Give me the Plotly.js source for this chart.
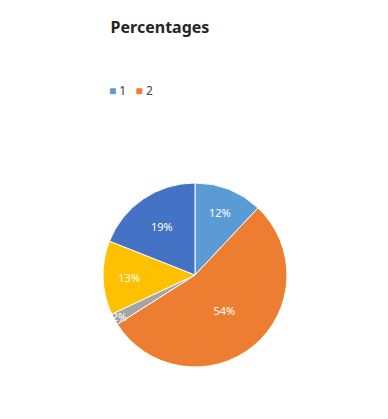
<!DOCTYPE html>
<html>
<head>
<meta charset="utf-8">
<script src="https://cdn.plot.ly/plotly-3.0.1.min.js"></script>
<style>html,body{margin:0;padding:0;background:#fff;}#chart{width:388px;height:419px;}</style>
</head>
<body>
<div id="chart"></div>
<script>
const labels = ["1", "2", "3", "4", "5"];
const values = [12, 54, 2, 13, 19];
const colors = ["#5B9BD5", "#ED7D31", "#A5A5A5", "#FFC000", "#4472C4"];
const legendLabels = ["1", "2"];

const W = 388, H = 419;
const pie = {
  type: "pie",
  labels: labels,
  values: values,
  sort: false,
  direction: "clockwise",
  rotation: 0,
  marker: {colors: colors, line: {color: "#ffffff", width: 1}},
  textinfo: "percent",
  texttemplate: "%{percent:.0%}",
  textposition: "inside",
  insidetextorientation: "horizontal",
  textfont: {family: "Noto Sans, sans-serif", size: 11, color: "#ffffff"},
  showlegend: false,
  hoverinfo: "label+percent",
  domain: {x: [103 / W, 287 / W], y: [1 - 367 / H, 1 - 183 / H]}
};

const legendText = legendLabels.map((l, i) =>
  `<span style="color:${colors[i]}">■</span> ${l}`).join("   ");

const layout = {
  width: W, height: H,
  margin: {l: 0, r: 0, t: 0, b: 0},
  paper_bgcolor: "#ffffff",
  showlegend: false,
  uniformtext: {mode: "show", minsize: 11},
  title: {
    text: "<b>Percentages</b>",
    x: 160 / W, xanchor: "center",
    y: 1 - 27 / H, yanchor: "middle",
    font: {family: "Noto Sans, sans-serif", size: 16, color: "#262626"}
  },
  annotations: [{
    text: legendText,
    xref: "paper", yref: "paper",
    x: 107 / W, xanchor: "left",
    y: 1 - 90 / H, yanchor: "middle",
    showarrow: false,
    font: {family: "Noto Sans, sans-serif", size: 12, color: "#404040"}
  }]
};

Plotly.newPlot("chart", [pie], layout, {displayModeBar: false, staticPlot: true});
</script>
</body>
</html>
